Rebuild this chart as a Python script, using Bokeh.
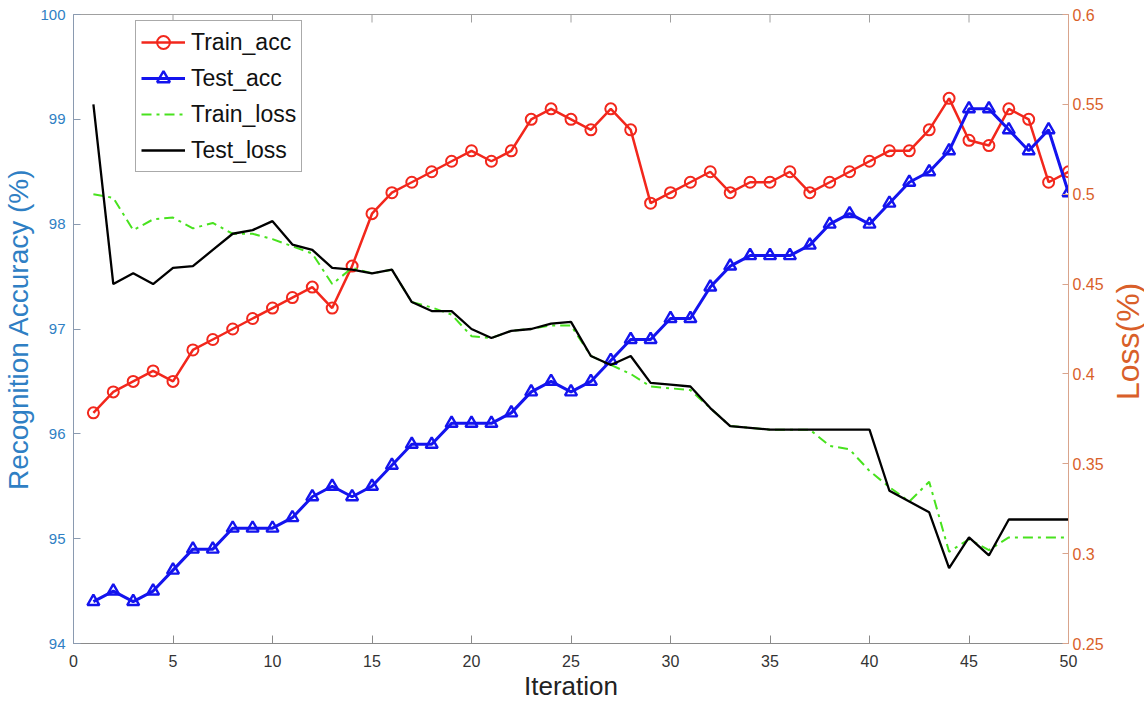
import math
from bokeh.plotting import figure
from bokeh.layouts import row
from bokeh.models import LinearAxis, Range1d, FixedTicker, Legend
from bokeh.core.properties import value
from bokeh.embed import file_html
from bokeh.resources import INLINE

iterations = [1, 2, 3, 4, 5, 6, 7, 8, 9, 10,
              11, 12, 13, 14, 15, 16, 17, 18, 19, 20,
              21, 22, 23, 24, 25, 26, 27, 28, 29, 30,
              31, 32, 33, 34, 35, 36, 37, 38, 39, 40,
              41, 42, 43, 44, 45, 46, 47, 48, 49, 50]

train_acc = [96.2, 96.4, 96.5, 96.6, 96.5, 96.8, 96.9, 97.0, 97.1, 97.2,
             97.3, 97.4, 97.2, 97.6, 98.1, 98.3, 98.4, 98.5, 98.6, 98.7,
             98.6, 98.7, 99.0, 99.1, 99.0, 98.9, 99.1, 98.9, 98.2, 98.3,
             98.4, 98.5, 98.3, 98.4, 98.4, 98.5, 98.3, 98.4, 98.5, 98.6,
             98.7, 98.7, 98.9, 99.2, 98.8, 98.75, 99.1, 99.0, 98.4, 98.5]

test_acc = [94.4, 94.5, 94.4, 94.5, 94.7, 94.9, 94.9, 95.1, 95.1, 95.1,
            95.2, 95.4, 95.5, 95.4, 95.5, 95.7, 95.9, 95.9, 96.1, 96.1,
            96.1, 96.2, 96.4, 96.5, 96.4, 96.5, 96.7, 96.9, 96.9, 97.1,
            97.1, 97.4, 97.6, 97.7, 97.7, 97.7, 97.8, 98.0, 98.1, 98.0,
            98.2, 98.4, 98.5, 98.7, 99.1, 99.1, 98.9, 98.7, 98.9, 98.3]

train_loss = [0.500, 0.498, 0.480, 0.486, 0.487, 0.481, 0.484, 0.478, 0.478, 0.475,
              0.471, 0.467, 0.450, 0.459, 0.456, 0.458, 0.440, 0.437, 0.433, 0.421,
              0.420, 0.424, 0.425, 0.427, 0.427, 0.410, 0.405, 0.400, 0.393, 0.392,
              0.391, 0.381, 0.371, 0.370, 0.369, 0.369, 0.369, 0.360, 0.358, 0.346,
              0.337, 0.329, 0.340, 0.301, 0.308, 0.302, 0.309, 0.309, 0.309, 0.309]

test_loss = [0.550, 0.450, 0.456, 0.450, 0.459, 0.460, 0.469, 0.478, 0.480, 0.485,
             0.472, 0.469, 0.459, 0.458, 0.456, 0.458, 0.440, 0.435, 0.435, 0.425,
             0.420, 0.424, 0.425, 0.428, 0.429, 0.410, 0.405, 0.410, 0.395, 0.394,
             0.393, 0.381, 0.371, 0.370, 0.369, 0.369, 0.369, 0.369, 0.369, 0.369,
             0.335, 0.329, 0.323, 0.292, 0.309, 0.299, 0.319, 0.319, 0.319, 0.319]

x_ticks = [0, 5, 10, 15, 20, 25, 30, 35, 40, 45, 50]
acc_ticks = [94, 95, 96, 97, 98, 99, 100]
loss_ticks = [0.25, 0.3, 0.35, 0.4, 0.45, 0.5, 0.55, 0.6]

FONT = "Liberation Sans"
BLUE_AX = "#2f7fc4"
ORANGE_AX = "#d95f2a"

X_MIN, X_MAX = 0, 50
Y_MIN, Y_MAX = 94, 100

TOTAL_W, TOTAL_H = 1144, 710
STRIP_W = 34          # narrow strip that carries the right-hand axis title
MAIN_W = TOTAL_W - STRIP_W

p = figure(width=MAIN_W, height=TOTAL_H, x_range=(X_MIN, X_MAX), y_range=(Y_MIN, Y_MAX),
           output_backend="svg", toolbar_location=None,
           min_border_left=72, min_border_right=42, min_border_top=14, min_border_bottom=67)
p.background_fill_color = "white"
p.border_fill_color = "white"
p.outline_line_color = "#a0a0a0"
p.xgrid.visible = False
p.ygrid.visible = False

p.extra_y_ranges = {"loss": Range1d(0.25, 0.6)}

# bottom axis
xa = p.xaxis[0]
xa.ticker = FixedTicker(ticks=x_ticks)
xa.axis_label = "Iteration"
xa.axis_label_text_font = FONT
xa.axis_label_text_font_style = "normal"
xa.axis_label_text_font_size = "26px"
xa.axis_label_text_color = "#222222"
xa.axis_label_standoff = 1
xa.major_label_text_font = FONT
xa.major_label_text_font_size = "16px"
xa.major_label_text_color = "#333333"
xa.major_label_standoff = 11
xa.axis_line_color = "#8a8a8a"
xa.major_tick_in = 8
xa.major_tick_out = 0
xa.major_tick_line_color = "#8a8a8a"
xa.minor_tick_line_color = None

# left axis
ya = p.yaxis[0]
ya.ticker = FixedTicker(ticks=acc_ticks)
ya.axis_label = "Recognition Accuracy (%)"
ya.axis_label_text_font = FONT
ya.axis_label_text_font_style = "normal"
ya.axis_label_text_font_size = "28px"
ya.axis_label_text_color = BLUE_AX
ya.axis_label_standoff = 3
ya.major_label_text_font = FONT
ya.major_label_text_font_size = "15px"
ya.major_label_text_color = BLUE_AX
ya.major_label_standoff = 8
ya.axis_line_color = "#8a9ab0"
ya.major_tick_in = 7
ya.major_tick_out = 0
ya.major_tick_line_color = "#8a9ab0"
ya.minor_tick_line_color = None

# right axis (its title is drawn in the strip so that it reads bottom-to-top)
ra = LinearAxis(y_range_name="loss", ticker=FixedTicker(ticks=loss_ticks))
ra.major_label_text_font = FONT
ra.major_label_text_font_size = "16px"
ra.major_label_text_color = ORANGE_AX
ra.major_label_standoff = 4
ra.axis_line_color = "#d9a48c"
ra.major_tick_in = 6
ra.major_tick_out = 0
ra.major_tick_line_color = "#d9a48c"
ra.minor_tick_line_color = None
p.add_layout(ra, "right")

# inward tick marks along the top edge (box style)
tick_len = 8 * (Y_MAX - Y_MIN) / 629.0
p.segment(x0=x_ticks, x1=x_ticks, y0=[Y_MAX] * len(x_ticks),
          y1=[Y_MAX - tick_len] * len(x_ticks), line_color="#a0a0a0", line_width=1)

RED = "#f2271c"
BLUE = "#1414ee"
GREEN = "#48e21e"

r1 = p.line(iterations, train_acc, line_color=RED, line_width=2.5)
s1 = p.scatter(iterations, train_acc, marker="circle", size=11, line_color=RED,
               line_width=2, fill_color="white", fill_alpha=0)
r2 = p.line(iterations, test_acc, line_color=BLUE, line_width=3)
s2 = p.scatter(iterations, test_acc, marker="triangle", size=12, line_color=BLUE,
               line_width=2.4, fill_color="white", fill_alpha=0)
r3 = p.line(iterations, train_loss, line_color=GREEN, line_width=2, line_dash="10 5 3 5",
            y_range_name="loss")
r4 = p.line(iterations, test_loss, line_color="black", line_width=2.3, y_range_name="loss")

legend = Legend(items=[("Train_acc", [r1, s1]), ("Test_acc", [r2, s2]),
                       ("Train_loss", [r3]), ("Test_loss", [r4])],
                location=(62, 471))
legend.label_text_font = FONT
legend.label_text_font_size = "23px"
legend.label_text_color = "#111111"
legend.glyph_width = 44
legend.glyph_height = 32
legend.label_height = 32
legend.label_standoff = 6
legend.padding = 5
legend.spacing = 4
legend.margin = 0
legend.border_line_color = "#555555"
legend.border_line_width = 1
legend.background_fill_color = "white"
legend.background_fill_alpha = 1
p.add_layout(legend, "center")

# strip holding the right-hand axis title "Loss(%)"
strip = figure(width=STRIP_W, height=TOTAL_H, x_range=(0, STRIP_W), y_range=(0, TOTAL_H),
               output_backend="svg", toolbar_location=None,
               x_axis_type=None, y_axis_type=None,
               min_border_left=0, min_border_right=0, min_border_top=0, min_border_bottom=0)
strip.outline_line_color = None
strip.background_fill_color = "white"
strip.border_fill_color = "white"
strip.xgrid.visible = False
strip.ygrid.visible = False
strip.text(x=[STRIP_W / 2], y=[TOTAL_H - 369], text=["Loss(%)"], angle=math.pi / 2,
           text_align="center", text_baseline="middle", text_font=value(FONT),
           text_font_size="32px", text_color=ORANGE_AX)

layout = row(p, strip, spacing=0)

open("out.html", "w").write(file_html(layout, INLINE))
